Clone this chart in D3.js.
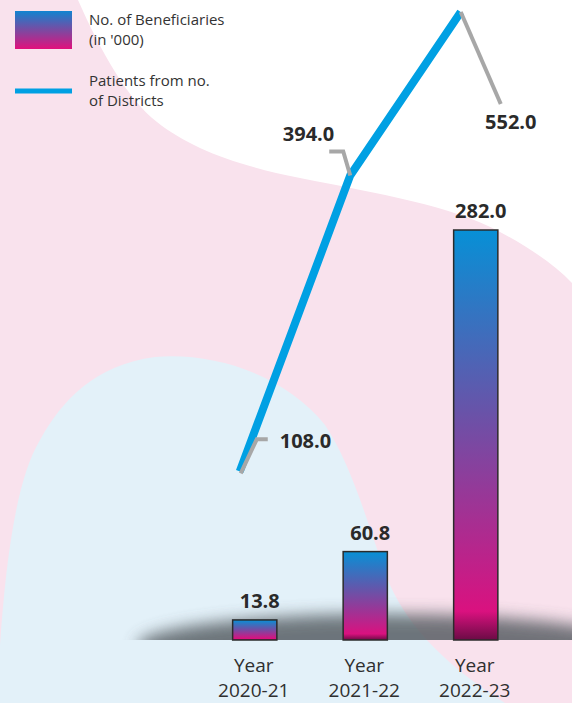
<!DOCTYPE html>
<html>
<head>
<meta charset="utf-8">
<script src="https://cdn.jsdelivr.net/npm/d3@7"></script>
<style>
  html, body { margin: 0; padding: 0; background: #f9e2ed; }
  svg { display: block; font-family: 'Open Sans', sans-serif; }
</style>
</head>
<body>
<div class="chart"></div>
<script>
// data
var years = ['2020-21', '2021-22', '2022-23'];
var beneficiaries = [13.8, 60.8, 282.0];   // No. of Beneficiaries (in '000)
var districts = [108.0, 394.0, 552.0];     // Patients from no. of Districts
var legendLabels = [["No. of Beneficiaries", "(in '000)"], ["Patients from no.", "of Districts"]];

var width = 572, height = 703;

var svg = d3.select('.chart')
  .append('svg')
  .attr('width', width)
  .attr('height', height);

var defs = svg.append('defs');

var barGrad = defs.append('linearGradient')
  .attr('id', 'barGrad')
  .attr('x1', 0).attr('y1', 0).attr('x2', 0).attr('y2', 1);
[[0, '#0790d6'], [0.45, '#6a52a8'], [0.93, '#da117f'], [1, '#6b0b45']].forEach(function (s) {
  barGrad.append('stop').attr('offset', s[0]).attr('stop-color', s[1]);
});

var legGrad = defs.append('linearGradient')
  .attr('id', 'legGrad')
  .attr('x1', 0).attr('y1', 0).attr('x2', 0).attr('y2', 1);
[[0, '#1184d0'], [0.5, '#7a4aa2'], [1, '#e2107c']].forEach(function (s) {
  legGrad.append('stop').attr('offset', s[0]).attr('stop-color', s[1]);
});

defs.append('filter').attr('id', 'blur')
  .attr('x', '-20%').attr('y', '-100%').attr('width', '140%').attr('height', '300%')
  .append('feGaussianBlur').attr('stdDeviation', 8);

defs.append('clipPath').attr('id', 'aboveBase')
  .append('rect').attr('x', 0).attr('y', 0).attr('width', width).attr('height', 640);

// background shapes
svg.append('rect').attr('width', width).attr('height', height).attr('fill', '#f9e2ed');

svg.append('path')
  .attr('d', 'M78,0 C100,50 128,100 157,122 C190,148 235,165 300,178 C380,194 450,205 500,232 C530,248 555,265 572,283 L572,0 Z')
  .attr('fill', '#ffffff');

svg.append('path')
  .attr('d', 'M0,703 L0,645 C6,560 16,480 40,440 C62,400 95,365 155,357 C215,352 285,375 325,425 C355,470 372,540 390,585 C410,630 450,668 505,703 Z')
  .attr('fill', '#e3f1f9');

// scales
var x = d3.scaleBand()
  .domain(years)
  .range([199.5, 531])
  .paddingInner(0.6)
  .paddingOuter(0.3);

var yBar = d3.scaleLinear().domain([0, 282]).range([640, 230]);
var yLine = d3.scaleLinear().domain([0, 552]).range([583, 12]);

var cx = function (d) { return x(d) + x.bandwidth() / 2; };

// ground shadow
svg.append('g').attr('clip-path', 'url(#aboveBase)')
  .append('ellipse')
  .attr('cx', 385).attr('cy', 646)
  .attr('rx', 248).attr('ry', 32)
  .attr('fill', '#50565c')
  .attr('opacity', 0.8)
  .attr('filter', 'url(#blur)');

// bars
svg.selectAll('.bar')
  .data(beneficiaries)
  .enter()
  .append('rect')
  .attr('class', 'bar')
  .attr('x', (d, i) => x(years[i]))
  .attr('y', d => yBar(d))
  .attr('width', x.bandwidth())
  .attr('height', d => yBar(0) - yBar(d))
  .attr('fill', 'url(#barGrad)')
  .attr('stroke', '#2b2b2b')
  .attr('stroke-width', 1.5);

svg.selectAll('.barLabel')
  .data(beneficiaries)
  .enter()
  .append('text')
  .attr('class', 'barLabel')
  .attr('x', (d, i) => cx(years[i]) + 5)
  .attr('y', d => yBar(d) - 12)
  .attr('text-anchor', 'middle')
  .style('font-weight', 'bold')
  .style('font-size', '20px')
  .style('fill', '#2a2a2a')
  .text(d => d.toFixed(1));

// x labels
var xl = svg.selectAll('.xLabel')
  .data(years)
  .enter()
  .append('text')
  .attr('class', 'xLabel')
  .attr('text-anchor', 'middle')
  .style('font-size', '19px')
  .style('fill', '#2f2f2f');
xl.append('tspan').attr('x', d => cx(d) - 1).attr('y', 672).text('Year');
xl.append('tspan').attr('x', d => cx(d) - 1).attr('y', 697).text(d => d);

// line
var line = d3.line()
  .x((d, i) => cx(years[i]) - 15)
  .y(d => yLine(d));

svg.append('path')
  .datum(districts)
  .attr('d', line)
  .style('stroke', '#00a0e3')
  .style('stroke-width', 8)
  .style('fill', 'none')
  .style('stroke-linejoin', 'miter')
  .style('stroke-linecap', 'butt');

// leader lines + labels for line points
var leaders = [
  [[1, 2], [17, -32], [28, -32]],
  [[0, 0], [-7, -24], [-21, -24]],
  [[0, 0], [40, 92]]
];
var lblPos = [[40, -23, 'start'], [-16, -34, 'end'], [50, 117, 'middle']];

districts.forEach(function (d, i) {
  var px = cx(years[i]) - 15, py = yLine(d);
  svg.append('path')
    .attr('d', d3.line()(leaders[i].map(p => [px + p[0], py + p[1]])))
    .style('stroke', '#a7a7a7')
    .style('stroke-width', 4)
    .style('fill', 'none');
  svg.append('text')
    .attr('x', px + lblPos[i][0])
    .attr('y', py + lblPos[i][1])
    .attr('text-anchor', lblPos[i][2])
    .style('font-weight', 'bold')
    .style('font-size', '20px')
    .style('fill', '#2a2a2a')
    .text(d.toFixed(1));
});

// legend
var legend = svg.append('g');
legend.append('rect')
  .attr('x', 15).attr('y', 11).attr('width', 57).attr('height', 38)
  .attr('fill', 'url(#legGrad)');
legend.append('line')
  .attr('x1', 15).attr('x2', 72).attr('y1', 91).attr('y2', 91)
  .style('stroke', '#00a0e3').style('stroke-width', 5);

legendLabels.forEach(function (lines, i) {
  var t = legend.append('text')
    .style('font-size', '15px')
    .style('fill', '#333');
  lines.forEach(function (s, j) {
    t.append('tspan').attr('x', 89).attr('y', (i === 0 ? 25 : 86) + j * 20).text(s);
  });
});
</script>
</body>
</html>
